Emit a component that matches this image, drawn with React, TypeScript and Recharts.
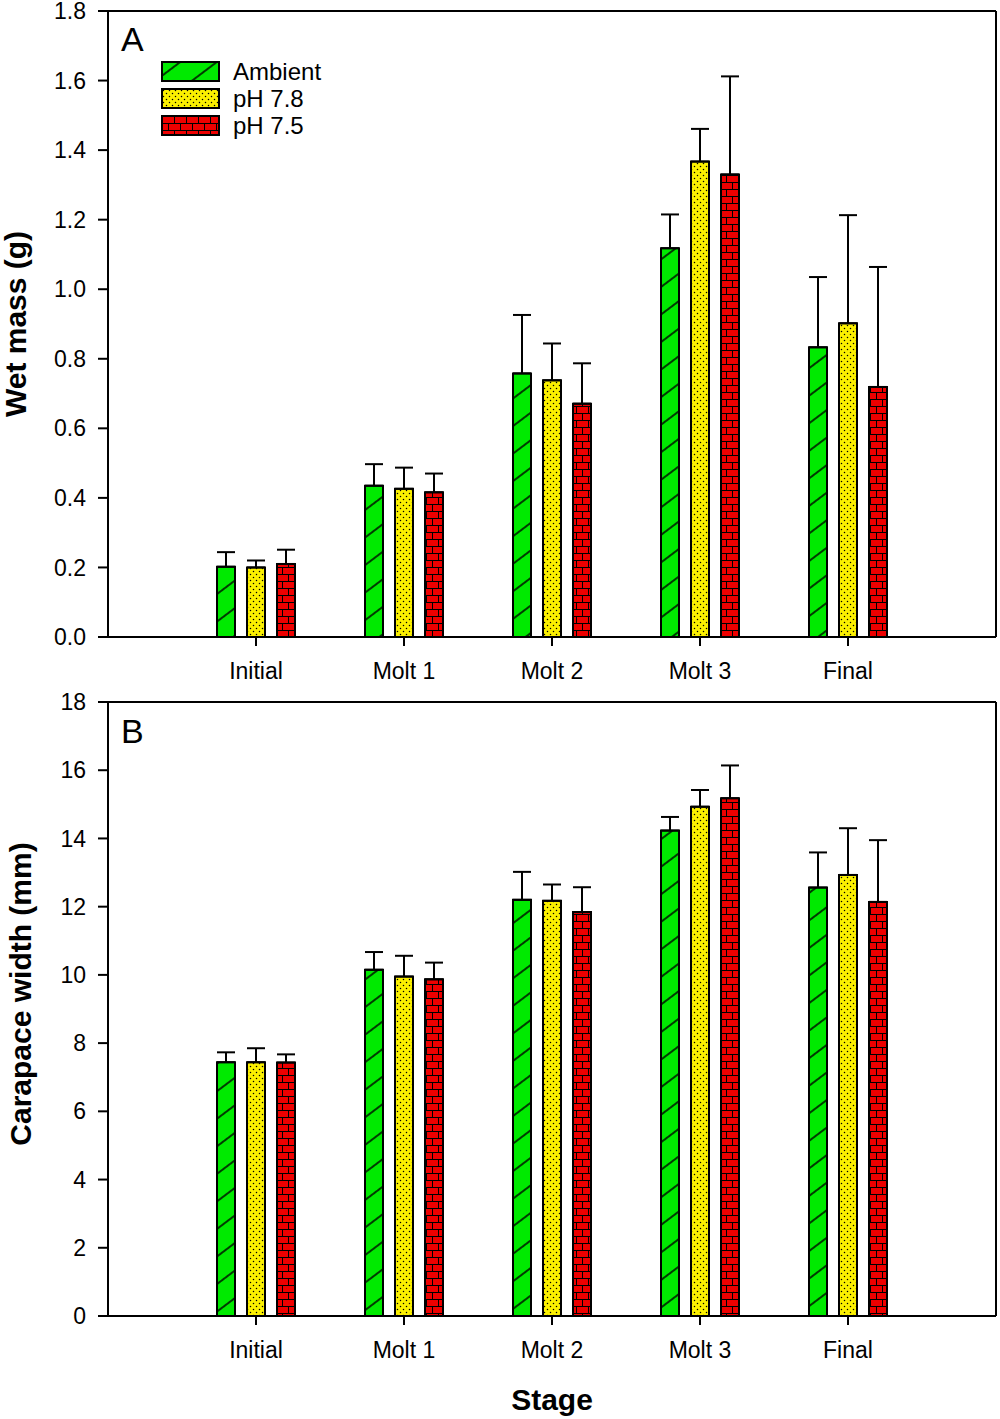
import React from 'react';
import { BarChart, Bar, XAxis, YAxis, ErrorBar, Legend } from 'recharts';

// growth per molt stage, means and SE
const stages = ['Initial', 'Molt 1', 'Molt 2', 'Molt 3', 'Final'];

const ambientMass = [0.202, 0.435, 0.758, 1.118, 0.833];
const ambientMassSE = [0.042, 0.062, 0.168, 0.097, 0.202];
const ph78Mass = [0.2, 0.426, 0.738, 1.367, 0.902];
const ph78MassSE = [0.02, 0.061, 0.106, 0.094, 0.311];
const ph75Mass = [0.21, 0.416, 0.671, 1.33, 0.719];
const ph75MassSE = [0.041, 0.054, 0.116, 0.282, 0.345];

const ambientWidth = [7.44, 10.15, 12.2, 14.23, 12.56];
const ambientWidthSE = [0.29, 0.52, 0.82, 0.4, 1.03];
const ph78Width = [7.44, 9.95, 12.17, 14.93, 12.93];
const ph78WidthSE = [0.41, 0.61, 0.48, 0.49, 1.37];
const ph75Width = [7.43, 9.87, 11.84, 15.18, 12.14];
const ph75WidthSE = [0.24, 0.49, 0.73, 0.96, 1.81];

const massTicks = [0, 0.2, 0.4, 0.6, 0.8, 1.0, 1.2, 1.4, 1.6, 1.8];
const widthTicks = [0, 2, 4, 6, 8, 10, 12, 14, 16, 18];

const series = [
  { key: 'amb', name: 'Ambient', pattern: 'hatch' },
  { key: 'p78', name: 'pH 7.8', pattern: 'dots' },
  { key: 'p75', name: 'pH 7.5', pattern: 'brick' },
];

const FONT = '"Liberation Sans", Arial, Helvetica, sans-serif';

const massData = stages.map((stage, i) => ({
  stage,
  amb: ambientMass[i],
  ambErr: [0, ambientMassSE[i]],
  p78: ph78Mass[i],
  p78Err: [0, ph78MassSE[i]],
  p75: ph75Mass[i],
  p75Err: [0, ph75MassSE[i]],
}));

const widthData = stages.map((stage, i) => ({
  stage,
  amb: ambientWidth[i],
  ambErr: [0, ambientWidthSE[i]],
  p78: ph78Width[i],
  p78Err: [0, ph78WidthSE[i]],
  p75: ph75Width[i],
  p75Err: [0, ph75WidthSE[i]],
}));

const patternDefs = (sfx: string) => (
  <defs>
    <pattern id={`hatch-${sfx}`} patternUnits="userSpaceOnUse" width={22} height={22} patternTransform="rotate(-37)">
      <rect width={22} height={22} fill="#00ea00" />
      <line x1={0} y1={11} x2={22} y2={11} stroke="#000" strokeWidth={1.5} />
    </pattern>
    <pattern id={`dots-${sfx}`} patternUnits="userSpaceOnUse" width={6} height={6}>
      <rect width={6} height={6} fill="#fbf000" />
      <circle cx={1.5} cy={1.5} r={0.75} fill="#000" />
      <circle cx={4.5} cy={4.5} r={0.75} fill="#000" />
    </pattern>
    <pattern id={`brick-${sfx}`} patternUnits="userSpaceOnUse" width={24} height={14}>
      <rect width={24} height={14} fill="#ee0000" />
      <path d="M0 0.5H24M0 7.5H24M0.5 0V7M12.5 0V7M6.5 7V14M18.5 7V14" stroke="#000" strokeWidth={1} fill="none" />
    </pattern>
  </defs>
);

const LegendBox = () => (
  <svg width={180} height={84} style={{ overflow: 'visible', display: 'block' }}>
    {patternDefs('lg')}
    {series.map((s, i) => (
      <g key={s.key} transform={`translate(1, ${1 + i * 27})`}>
        <rect width={57} height={19} fill={`url(#${s.pattern}-lg)`} stroke="#000" strokeWidth={2} />
        <text x={71} y={18} fontSize={24} fontFamily={FONT} fill="#000">
          {s.name}
        </text>
      </g>
    ))}
  </svg>
);

const YTitle = ({ viewBox, value, dx, dy }: any) => {
  const cx = viewBox.x + dx;
  const cy = viewBox.y + viewBox.height / 2 + dy;
  return (
    <text
      x={cx}
      y={cy}
      transform={`rotate(-90 ${cx} ${cy})`}
      textAnchor="middle"
      dominantBaseline="central"
      fontSize={30}
      fontWeight="bold"
      fontFamily={FONT}
      fill="#000"
    >
      {value}
    </text>
  );
};

const XTitle = ({ viewBox, value }: any) => (
  <text
    x={viewBox.x + viewBox.width / 2}
    y={viewBox.y + 94}
    textAnchor="middle"
    fontSize={30}
    fontWeight="bold"
    fontFamily={FONT}
    fill="#000"
  >
    {value}
  </text>
);

const tickStyle = { fontSize: 23, fill: '#000', fontFamily: FONT };
const axisLine = { stroke: '#000', strokeWidth: 2 };
const tickLine = { stroke: '#000', strokeWidth: 2 };

type PanelProps = {
  data: any[];
  sfx: string;
  height: number;
  top: number;
  xHeight: number;
  ticks: number[];
  max: number;
  fmt: (v: number) => string;
  yTitle: string;
  yTitleDx: number;
  yTitleDy: number;
  xTitle?: string;
  legend?: boolean;
};

// the top x axis and right y axis are only there to close the frame
const Panel = (p: PanelProps) => (
  <BarChart
    width={1000}
    height={p.height}
    data={p.data}
    margin={{ top: p.top - 1, right: 3, left: 0, bottom: 0 }}
    barSize={18}
    barGap={12}
  >
    {patternDefs(p.sfx)}
    <XAxis
      dataKey="stage"
      height={p.xHeight}
      padding={{ left: 74, right: 74 }}
      axisLine={axisLine}
      tickLine={tickLine}
      tickSize={9}
      tickMargin={17}
      tick={tickStyle}
      label={p.xTitle ? <XTitle value={p.xTitle} /> : undefined}
    />
    <XAxis
      xAxisId="frame"
      orientation="top"
      type="number"
      domain={[0, 1]}
      ticks={[]}
      height={1}
      axisLine={axisLine}
      tick={false}
      tickLine={false}
    />
    <YAxis
      width={108}
      domain={[0, p.max]}
      ticks={p.ticks}
      interval={0}
      tickFormatter={p.fmt}
      axisLine={axisLine}
      tickLine={tickLine}
      tickSize={10}
      tickMargin={12}
      tick={tickStyle}
      label={<YTitle value={p.yTitle} dx={p.yTitleDx} dy={p.yTitleDy} />}
    />
    <YAxis
      yAxisId="frame"
      orientation="right"
      type="number"
      domain={[0, 1]}
      ticks={[]}
      width={1}
      axisLine={axisLine}
      tick={false}
      tickLine={false}
    />
    {p.legend && (
      <Legend
        layout="vertical"
        align="center"
        verticalAlign="middle"
        content={<LegendBox />}
        wrapperStyle={{ left: 161, top: 61, width: 180, height: 84 }}
      />
    )}
    {series.map((s) => (
      <Bar
        key={s.key}
        dataKey={s.key}
        name={s.name}
        fill={`url(#${s.pattern}-${p.sfx})`}
        stroke="#000"
        strokeWidth={2}
        isAnimationActive={false}
      >
        <ErrorBar dataKey={`${s.key}Err`} direction="y" width={9} stroke="#000" strokeWidth={2} isAnimationActive={false} />
      </Bar>
    ))}
  </BarChart>
);

export default function App() {
  return (
    <div style={{ position: 'absolute', left: 0, top: 0, width: 1000, height: 1419, background: '#fff', fontFamily: FONT }}>
      <div style={{ position: 'absolute', left: 0, top: 0 }}>
        <Panel
          data={massData}
          sfx="a"
          height={690}
          top={11}
          xHeight={53}
          ticks={massTicks}
          max={1.8}
          fmt={(v) => v.toFixed(1)}
          yTitle="Wet mass (g)"
          yTitleDx={15}
          yTitleDy={0}
          legend
        />
        <div style={{ position: 'absolute', left: 121, top: 22, fontSize: 34, lineHeight: '34px' }}>A</div>
      </div>
      <div style={{ position: 'absolute', left: 0, top: 690 }}>
        <Panel
          data={widthData}
          sfx="b"
          height={729}
          top={12}
          xHeight={103}
          ticks={widthTicks}
          max={18}
          fmt={(v) => String(v)}
          yTitle="Carapace width (mm)"
          yTitleDx={20}
          yTitleDy={-15}
          xTitle="Stage"
        />
        <div style={{ position: 'absolute', left: 121, top: 24, fontSize: 34, lineHeight: '34px' }}>B</div>
      </div>
    </div>
  );
}
